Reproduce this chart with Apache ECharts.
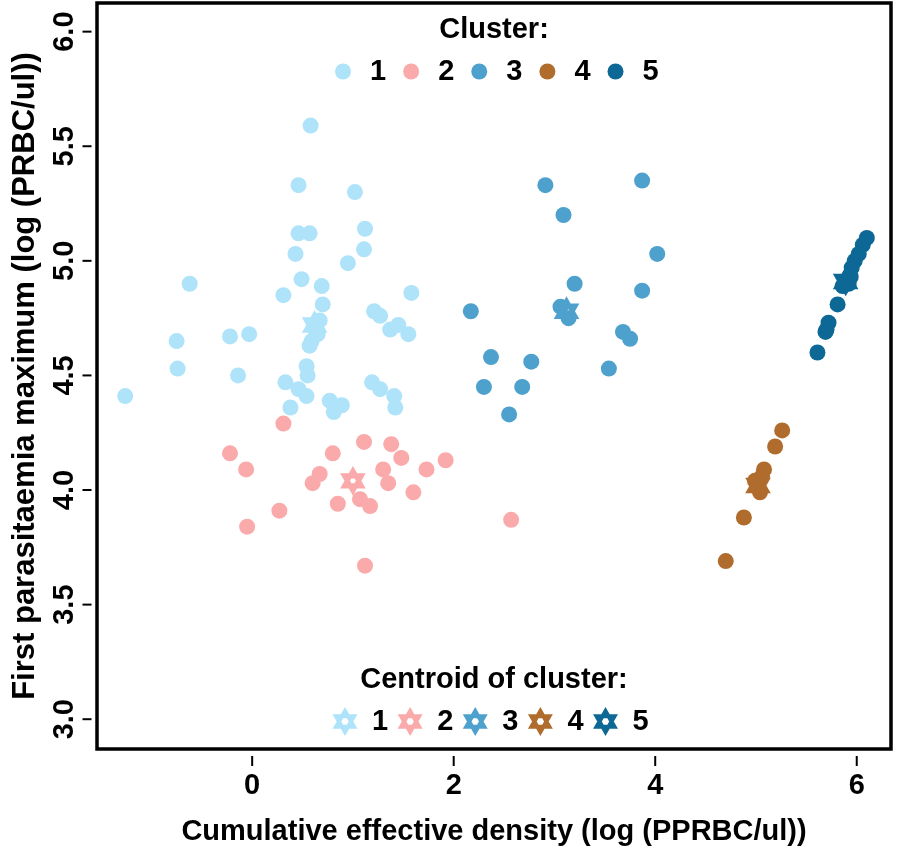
<!DOCTYPE html>
<html><head><meta charset="utf-8">
<script src="https://cdn.jsdelivr.net/npm/echarts@6/dist/echarts.min.js"></script>
<style>html,body{margin:0;padding:0;background:#fff}#c{width:898px;height:851px}</style>
</head><body><div id="c"></div>
<script>
const clusterNames = ['1', '2', '3', '4', '5'];
const centroidNames = ['C1', 'C2', 'C3', 'C4', 'C5'];
const clusterColors = ['#aee3fa', '#faaaaa', '#4da1cc', '#b06c2c', '#0d6896'];

const c1x = [-1.26, -0.62, -0.75, -0.74, -0.22, -0.03, -0.14, 0.58, 0.46, 0.46, 0.57, 0.43, 0.49, 0.69, 0.31, 0.70, 0.67, 0.61, 0.65, 0.59, 0.57, 0.54, 0.55, 0.33, 0.46, 0.54, 0.38, 0.77, 0.89, 0.81, 1.02, 1.12, 1.11, 0.95, 1.58, 1.21, 1.27, 1.37, 1.45, 1.55, 1.19, 1.27, 1.41, 1.42];
const c1y = [4.41, 4.90, 4.65, 4.53, 4.67, 4.68, 4.50, 5.59, 5.33, 5.12, 5.12, 5.03, 4.92, 4.89, 4.85, 4.81, 4.74, 4.71, 4.68, 4.65, 4.63, 4.54, 4.50, 4.47, 4.44, 4.41, 4.36, 4.39, 4.37, 4.34, 5.30, 5.14, 5.05, 4.99, 4.86, 4.78, 4.76, 4.70, 4.72, 4.68, 4.47, 4.44, 4.41, 4.36];

const c2x = [0.31, -0.22, -0.06, 0.80, 0.67, 0.60, 0.85, 0.27, -0.05, 1.11, 1.38, 1.48, 1.92, 1.73, 1.30, 1.35, 1.07, 1.17, 1.60, 2.57, 1.12];
const c2y = [4.29, 4.16, 4.09, 4.16, 4.07, 4.03, 3.94, 3.91, 3.84, 4.21, 4.20, 4.14, 4.13, 4.09, 4.09, 4.03, 3.96, 3.93, 3.99, 3.87, 3.67];

const c3x = [2.91, 3.87, 3.09, 4.02, 3.20, 3.87, 2.17, 3.06, 3.14, 3.68, 3.75, 2.37, 2.77, 3.54, 2.30, 2.68, 2.55];
const c3y = [5.33, 5.35, 5.20, 5.03, 4.90, 4.87, 4.78, 4.80, 4.75, 4.69, 4.66, 4.58, 4.56, 4.53, 4.45, 4.45, 4.33];

const c4x = [5.26, 5.19, 5.08, 5.06, 4.99, 5.04, 4.88, 4.70];
const c4y = [4.26, 4.19, 4.09, 4.06, 4.04, 3.99, 3.88, 3.69];

const c5x = [6.10, 6.06, 6.02, 5.98, 5.95, 5.94, 5.92, 5.86, 5.81, 5.72, 5.70, 5.69, 5.61];
const c5y = [5.10, 5.07, 5.03, 5.00, 4.97, 4.93, 4.90, 4.89, 4.81, 4.73, 4.70, 4.69, 4.60];

const centroidX = [0.62, 1.00, 3.12, 5.02, 5.89];
const centroidY = [4.72, 4.04, 4.78, 4.02, 4.91];

const xTicks = [0, 2, 4, 6];
const yTicks = [3.0, 3.5, 4.0, 4.5, 5.0, 5.5, 6.0];

const xTitle = 'Cumulative effective density (log (PPRBC/ul))';
const yTitle = 'First parasitaemia maximum (log (PRBC/ul))';
const legend1Title = 'Cluster:';
const legend2Title = 'Centroid of cluster:';

const clustersX = [c1x, c2x, c3x, c4x, c5x];
const clustersY = [c1y, c2y, c3y, c4y, c5y];

const X_MIN = -1.54, X_MAX = 6.34, Y_MIN = 2.87, Y_MAX = 6.125;

const STAR = 'path://M0,-20L17.32,10L-17.32,10ZM0,20L17.32,-10L-17.32,-10Z';
const FONT = 'Liberation Sans';
const NARROW = '"Liberation Sans Narrow", "Liberation Sans"';

const series = [];
clusterNames.forEach((n, i) => {
  series.push({
    name: n, type: 'scatter', symbol: 'circle', symbolSize: 16,
    itemStyle: { color: clusterColors[i], opacity: 1 },
    data: clustersX[i].map((x, j) => [x, clustersY[i][j]]),
    z: 2
  });
});
centroidNames.forEach((n, i) => {
  series.push({
    name: n, type: 'scatter', symbol: STAR, symbolSize: [17, 20],
    itemStyle: { color: 'rgba(0,0,0,0)', borderColor: clusterColors[i], borderWidth: 5, opacity: 1 },
    data: [[centroidX[i], centroidY[i]]],
    z: 3
  });
});
// axis tick marks, placed on the axes' scale and pushed just outside the frame
series.push({
  name: 'yTickMarks', type: 'scatter', silent: true, clip: false, z: 5,
  symbol: 'rect', symbolSize: [9, 2], symbolOffset: [-10, 0],
  itemStyle: { color: '#000', opacity: 1 },
  data: yTicks.map(v => [X_MIN, v])
});
series.push({
  name: 'xTickMarks', type: 'scatter', silent: true, clip: false, z: 5,
  symbol: 'rect', symbolSize: [2, 10], symbolOffset: [0, 12],
  itemStyle: { color: '#000', opacity: 1 },
  data: xTicks.map(v => [v, Y_MIN])
});

const legendText = { color: '#000', fontFamily: FONT, fontWeight: 'bold', fontSize: 29,
  rich: { t: { color: '#000', fontFamily: FONT, fontWeight: 'bold', fontSize: 29, padding: [0, 0, 0, 14] } } };
const legendText2 = { color: '#000', fontFamily: FONT, fontWeight: 'bold', fontSize: 29,
  rich: { t: { color: '#000', fontFamily: FONT, fontWeight: 'bold', fontSize: 29, padding: [0, 0, 0, 13] } } };

const hiddenLine = { show: true, onZero: false, lineStyle: { color: 'rgba(0,0,0,0)', width: 0 } };

const chart = echarts.init(document.getElementById('c'), null, { renderer: 'canvas' });
chart.setOption({
  animation: false,
  backgroundColor: '#fff',
  grid: { left: 97, right: 7, top: 3, bottom: 93, show: true, borderColor: '#000', borderWidth: 3.5, backgroundColor: 'transparent' },
  xAxis: {
    type: 'value', min: X_MIN, max: X_MAX, offset: 6,
    axisLine: hiddenLine, splitLine: { show: false }, axisTick: { show: false },
    axisLabel: { customValues: xTicks, color: '#000', fontFamily: NARROW, fontWeight: 'bold', fontSize: 29, margin: 16 },
    name: xTitle, nameLocation: 'middle', nameGap: 62,
    nameTextStyle: { color: '#000', fontFamily: FONT, fontWeight: 'bold', fontSize: 29 }
  },
  yAxis: {
    type: 'value', min: Y_MIN, max: Y_MAX, offset: 6,
    axisLine: hiddenLine, splitLine: { show: false }, axisTick: { show: false },
    axisLabel: { customValues: yTicks, rotate: 90, color: '#000', fontFamily: NARROW, fontWeight: 'bold', fontSize: 29, margin: 12,
      formatter: v => Number(v).toFixed(1) },
    name: yTitle, nameLocation: 'middle', nameGap: 50, nameRotate: 90,
    nameTextStyle: { color: '#000', fontFamily: FONT, fontWeight: 'bold', fontSize: 31 }
  },
  legend: [
    {
      data: clusterNames, orient: 'horizontal', left: 335, top: 57, padding: 0,
      itemWidth: 16, itemHeight: 16, itemGap: 17,
      formatter: n => '{t|' + n + '}',
      textStyle: legendText,
      selectedMode: false
    },
    {
      data: centroidNames, orient: 'horizontal', left: 334, top: 707, padding: 0,
      itemWidth: 18, itemHeight: 21, itemGap: 11,
      formatter: n => '{t|' + n.slice(1) + '}',
      textStyle: legendText2,
      itemStyle: { borderWidth: 4 },
      selectedMode: false
    }
  ],
  graphic: [
    { type: 'text', x: 494, y: 30, style: { text: legend1Title, fill: '#000', font: 'bold 29px "Liberation Sans"', textAlign: 'center', textVerticalAlign: 'middle' } },
    { type: 'text', x: 494, y: 680, style: { text: legend2Title, fill: '#000', font: 'bold 29px "Liberation Sans"', textAlign: 'center', textVerticalAlign: 'middle' } }
  ],
  series: series
});
</script>
</body></html>
